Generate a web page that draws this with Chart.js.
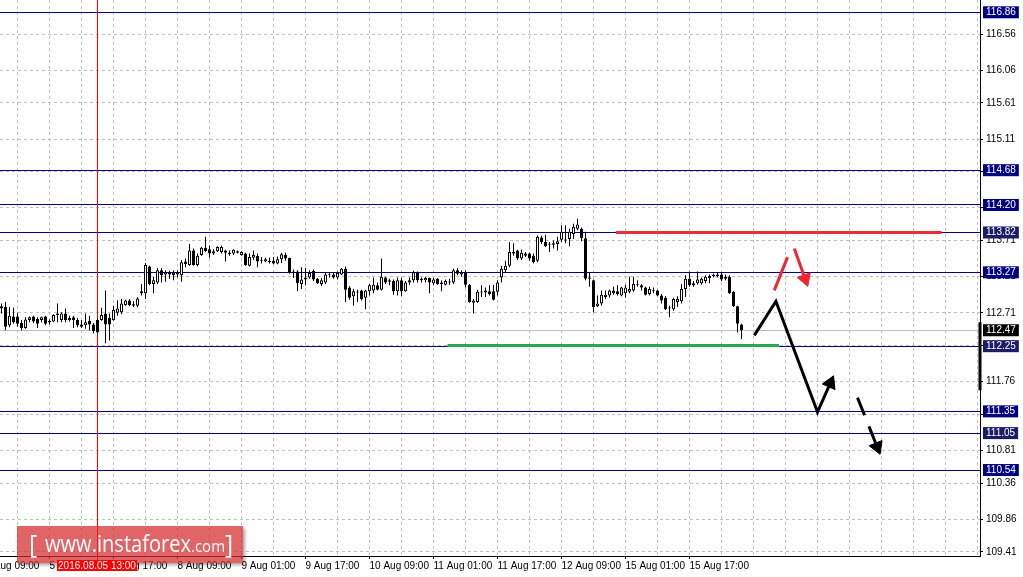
<!DOCTYPE html>
<html>
<head>
<meta charset="utf-8">
<title>USDJPY H1</title>
<script src="https://cdn.jsdelivr.net/npm/chart.js@4.4.1/dist/chart.umd.min.js"></script>
<style>
  html, body { margin: 0; padding: 0; background: #fff; }
  #wrap { position: relative; width: 1023px; height: 577px; overflow: hidden; }
  #chart { position: absolute; left: 0; top: 0; }
  #stamp {
    position: absolute; left: 57px; top: 560px; width: 80px; height: 11px;
    background: #f00; color: #fff; text-align: center;
    font: 10px "Liberation Sans", Arial, sans-serif; line-height: 11px;
  }
  #logo {
    position: absolute; left: 17px; top: 526px; width: 226px; height: 37px;
    background: rgba(214, 40, 44, 0.72); box-shadow: 2px 2px 3px rgba(0, 0, 0, 0.35);
  }
  #logo svg { position: absolute; left: 0; top: 0; }
</style>
</head>
<body>
<div id="wrap">
  <canvas id="chart" width="1023" height="577"></canvas>
  <div id="logo">
    <svg width="226" height="37">
      <text x="12" y="27" font-family="Open Sans" font-size="25" fill="#fff">[</text>
      <text x="28" y="26" font-family="Open Sans" font-size="24" fill="#fff" textLength="146" lengthAdjust="spacingAndGlyphs">www.instaforex</text>
      <text x="174" y="26" font-family="Open Sans" font-size="17" fill="#fff" textLength="34" lengthAdjust="spacingAndGlyphs">.com</text>
      <text x="208" y="27" font-family="Open Sans" font-size="25" fill="#fff">]</text>
    </svg>
  </div>
  <div id="stamp">2016.08.05 13:00</div>
</div>
<script>
// Hourly bars, index 0 = 4 Aug 13:00
const opens = [
  112.80, 112.79, 112.54, 112.66, 112.66, 112.57, 112.50, 112.61, 112.66, 112.63,
  112.61, 112.66, 112.60, 112.59, 112.70, 112.61, 112.70, 112.64, 112.65, 112.61,
  112.55, 112.54, 112.60, 112.55, 112.61, 112.61, 112.70, 112.64, 112.61, 112.71,
  112.72, 112.82, 112.88, 112.83, 112.81, 113.01, 112.98, 113.35, 113.11, 113.13,
  113.30, 113.24, 113.26, 113.27, 113.24, 113.23, 113.42, 113.37, 113.57, 113.37,
  113.51, 113.61, 113.59, 113.53, 113.56, 113.55, 113.57, 113.54, 113.53, 113.56,
  113.51, 113.53, 113.36, 113.47, 113.50, 113.44, 113.42, 113.43, 113.43, 113.39,
  113.45, 113.51, 113.47, 113.28, 113.28, 113.11, 113.17, 113.20, 113.29, 113.18,
  113.11, 113.13, 113.24, 113.24, 113.20, 113.24, 113.32, 113.06, 112.94, 113.00,
  113.02, 112.92, 113.01, 113.02, 113.09, 113.03, 113.20, 113.16, 113.15, 113.01,
  113.16, 113.01, 113.13, 113.16, 113.26, 113.18, 113.16, 113.19, 113.12, 113.18,
  113.13, 113.10, 113.14, 113.13, 113.30, 113.24, 113.26, 113.10, 112.85, 112.86,
  113.00, 112.99, 113.01, 113.01, 113.00, 113.20, 113.30, 113.36, 113.55, 113.57,
  113.46, 113.53, 113.53, 113.50, 113.43, 113.75, 113.69, 113.66, 113.65, 113.66,
  113.72, 113.72, 113.73, 113.80, 113.87, 113.87, 113.74, 113.20, 113.16, 112.80,
  112.84, 112.93, 112.95, 113.02, 113.01, 112.95, 112.98, 113.00, 113.02, 113.10,
  113.09, 113.06, 112.97, 113.02, 113.02, 112.95, 112.92, 112.78, 112.76, 112.86,
  112.87, 113.04, 113.18, 113.09, 113.12, 113.12, 113.15, 113.19, 113.23, 113.24,
  113.24, 113.18, 113.21, 113.00, 112.80, 112.55
];
const highs = [
  112.84, 112.86, 112.79, 112.78, 112.71, 112.61, 112.65, 112.66, 112.67, 112.65,
  112.66, 112.67, 112.62, 112.69, 112.84, 112.72, 112.77, 112.67, 112.67, 112.64,
  112.61, 112.70, 112.67, 112.57, 112.63, 112.78, 113.02, 112.70, 112.81, 112.88,
  112.90, 112.89, 112.90, 112.87, 112.93, 113.11, 113.40, 113.36, 113.21, 113.33,
  113.33, 113.30, 113.29, 113.30, 113.30, 113.44, 113.46, 113.66, 113.60, 113.53,
  113.62, 113.76, 113.64, 113.59, 113.63, 113.64, 113.58, 113.57, 113.59, 113.57,
  113.56, 113.54, 113.53, 113.57, 113.53, 113.48, 113.47, 113.47, 113.48, 113.49,
  113.54, 113.54, 113.47, 113.31, 113.30, 113.34, 113.33, 113.30, 113.31, 113.19,
  113.19, 113.27, 113.27, 113.27, 113.28, 113.33, 113.35, 113.08, 113.04, 113.03,
  113.03, 113.03, 113.11, 113.20, 113.13, 113.46, 113.21, 113.18, 113.17, 113.20,
  113.19, 113.15, 113.20, 113.29, 113.28, 113.20, 113.21, 113.20, 113.19, 113.19,
  113.16, 113.17, 113.18, 113.32, 113.33, 113.30, 113.30, 113.11, 112.90, 113.03,
  113.09, 113.06, 113.09, 113.10, 113.16, 113.36, 113.43, 113.69, 113.67, 113.58,
  113.58, 113.55, 113.54, 113.53, 113.78, 113.78, 113.79, 113.69, 113.71, 113.76,
  113.92, 113.92, 113.87, 113.94, 114.01, 113.89, 113.83, 113.27, 113.17, 112.95,
  113.02, 113.02, 113.03, 113.07, 113.09, 113.07, 113.10, 113.21, 113.21, 113.16,
  113.11, 113.07, 113.07, 113.06, 113.03, 112.97, 112.94, 112.81, 112.92, 112.94,
  113.11, 113.23, 113.28, 113.15, 113.28, 113.20, 113.23, 113.24, 113.25, 113.26,
  113.26, 113.24, 113.23, 113.01, 112.81, 112.56
];
const lows = [
  112.70, 112.47, 112.51, 112.56, 112.52, 112.47, 112.49, 112.58, 112.57, 112.50,
  112.58, 112.54, 112.55, 112.58, 112.58, 112.58, 112.58, 112.59, 112.50, 112.51,
  112.50, 112.49, 112.47, 112.43, 112.43, 112.60, 112.29, 112.33, 112.60, 112.67,
  112.69, 112.81, 112.80, 112.79, 112.79, 112.95, 112.90, 113.09, 112.98, 113.11,
  113.13, 113.14, 113.18, 113.16, 113.20, 113.14, 113.34, 113.36, 113.36, 113.35,
  113.50, 113.55, 113.47, 113.51, 113.55, 113.53, 113.42, 113.50, 113.51, 113.53,
  113.50, 113.36, 113.35, 113.44, 113.34, 113.39, 113.41, 113.39, 113.38, 113.38,
  113.40, 113.43, 113.25, 113.19, 113.01, 113.04, 113.09, 113.18, 113.15, 113.11,
  113.08, 113.11, 113.20, 113.18, 113.17, 113.23, 112.86, 112.89, 112.81, 112.86,
  112.88, 112.76, 112.95, 112.98, 113.02, 113.02, 113.11, 113.09, 112.96, 112.95,
  112.94, 113.00, 113.10, 113.13, 113.13, 113.13, 113.13, 112.98, 113.09, 113.10,
  113.01, 113.09, 113.10, 113.11, 113.23, 113.21, 113.06, 112.85, 112.70, 112.85,
  112.93, 112.93, 112.95, 112.88, 112.95, 113.13, 113.27, 113.34, 113.50, 113.44,
  113.44, 113.48, 113.43, 113.39, 113.41, 113.66, 113.62, 113.55, 113.60, 113.57,
  113.69, 113.67, 113.63, 113.73, 113.85, 113.70, 113.16, 113.07, 112.72, 112.79,
  112.81, 112.90, 112.92, 112.96, 112.95, 112.94, 112.92, 112.98, 113.00, 113.07,
  113.02, 112.95, 112.95, 112.98, 112.94, 112.84, 112.75, 112.65, 112.74, 112.79,
  112.84, 112.93, 113.07, 113.07, 113.10, 113.10, 113.12, 113.12, 113.20, 113.20,
  113.15, 113.16, 112.97, 112.79, 112.44, 112.35
];
const closes = [
  112.77, 112.52, 112.67, 112.58, 112.56, 112.50, 112.62, 112.65, 112.59, 112.56,
  112.65, 112.56, 112.58, 112.68, 112.68, 112.70, 112.61, 112.61, 112.61, 112.54,
  112.52, 112.58, 112.55, 112.46, 112.44, 112.68, 112.55, 112.55, 112.75, 112.77,
  112.84, 112.88, 112.82, 112.81, 112.91, 112.98, 113.37, 113.11, 113.16, 113.30,
  113.23, 113.27, 113.24, 113.23, 113.27, 113.41, 113.38, 113.57, 113.37, 113.50,
  113.61, 113.56, 113.53, 113.56, 113.62, 113.62, 113.54, 113.52, 113.58, 113.54,
  113.55, 113.37, 113.48, 113.51, 113.42, 113.43, 113.45, 113.41, 113.39, 113.45,
  113.52, 113.46, 113.26, 113.26, 113.12, 113.17, 113.20, 113.26, 113.17, 113.12,
  113.16, 113.24, 113.23, 113.20, 113.26, 113.32, 113.03, 112.92, 113.01, 112.99,
  112.90, 113.02, 113.09, 113.10, 113.03, 113.21, 113.13, 113.14, 113.01, 113.16,
  113.01, 113.13, 113.16, 113.27, 113.16, 113.16, 113.19, 113.13, 113.17, 113.11,
  113.11, 113.15, 113.13, 113.30, 113.25, 113.27, 113.10, 112.86, 112.88, 113.00,
  112.99, 113.02, 112.97, 112.89, 113.13, 113.32, 113.36, 113.55, 113.53, 113.46,
  113.54, 113.50, 113.46, 113.41, 113.76, 113.69, 113.63, 113.65, 113.67, 113.70,
  113.83, 113.71, 113.83, 113.90, 113.93, 113.74, 113.18, 113.18, 112.79, 112.84,
  112.96, 112.96, 113.02, 112.98, 112.97, 113.06, 113.06, 113.04, 113.11, 113.09,
  113.06, 112.96, 113.04, 113.01, 112.95, 112.88, 112.76, 112.77, 112.90, 112.90,
  113.04, 113.18, 113.09, 113.12, 113.17, 113.18, 113.21, 113.22, 113.22, 113.22,
  113.17, 113.21, 112.98, 112.80, 112.56, 112.47
];

// Time axis labels (bar index -> text)
const timeTickBars = [-4, 12, 28, 44, 60, 76, 92, 108, 124, 140, 156, 172];
const timeTickLabels = ['4 Aug 09:00', '5 Aug 01:00', '5 Aug 17:00', '8 Aug 09:00', '9 Aug 01:00',
  '9 Aug 17:00', '10 Aug 09:00', '11 Aug 01:00', '11 Aug 17:00', '12 Aug 09:00', '15 Aug 01:00', '15 Aug 17:00'];

// Price axis
const priceTicks = [116.56, 116.06, 115.61, 115.11, 114.66, 114.16, 113.71, 113.21,
  112.71, 112.26, 111.76, 111.31, 110.81, 110.36, 109.86, 109.41];
const levels = [116.86, 114.68, 114.20, 113.82, 113.27, 112.25, 111.35, 111.05, 110.54];
const shadedLevels = [113.82, 112.25, 111.05];
const bidPrice = 112.47;
const crosshairBar = 24;

// Drawn objects (bar index, price)
const resistanceX = [153.6, 235.0];
const resistanceY = [113.82, 113.82];
const supportX = [111.5, 194.4];
const supportY = [112.26, 112.26];
const pathX = [188.2, 193.6, 204.0, 207.2];
const pathY = [112.40, 112.87, 111.34, 111.74];
const dashArrowX = [214.0, 218.9];
const dashArrowY = [111.54, 110.86];
const redStrokeX = [193.2, 196.5];
const redStrokeY = [113.02, 113.48];
const redArrowX = [198.2, 200.9];
const redArrowY = [113.60, 113.18];
const axisMarkY = [112.58, 111.64];

const xMin = -0.375, xMax = 244.625;
const yMin = 109.353, yMax = 117.03;

const gridTicks = [];
for (let k = -4; k <= 244; k += 8) gridTicks.push(k);
const yTicks = [...priceTicks, ...levels, bidPrice];

const pts = (xs, ys) => xs.map((x, i) => ({ x: x, y: ys[i] }));

function tipRotation(ctx) {
  const d = ctx.dataset.data, i = ctx.dataIndex;
  if (i === 0) return 0;
  const sx = ctx.chart.scales.x, sy = ctx.chart.scales.y;
  const dx = sx.getPixelForValue(d[i].x) - sx.getPixelForValue(d[i - 1].x);
  const dy = sy.getPixelForValue(d[i].y) - sy.getPixelForValue(d[i - 1].y);
  return Math.atan2(dx, -dy) * 180 / Math.PI;
}
const tipRadius = ctx => ctx.dataIndex === ctx.dataset.data.length - 1 ? 8 : 0;

function arrowLine(data, color, width, dash, head) {
  return {
    type: 'line', data: data, order: 0,
    borderColor: color, backgroundColor: color, borderWidth: width,
    borderDash: dash || [], tension: 0,
    pointRadius: head === false ? 0 : tipRadius, pointHoverRadius: 0, pointStyle: 'triangle',
    pointRotation: tipRotation, pointBackgroundColor: color, pointBorderColor: color, pointBorderWidth: 1
  };
}

Chart.defaults.font.family = '"Liberation Sans", Arial, sans-serif';
Chart.defaults.color = '#000';

const tickFont = { size: 10, lineHeight: 1.0 };
const isLevel = i => i >= priceTicks.length;

new Chart(document.getElementById('chart'), {
  type: 'bar',
  data: {
    datasets: [
      {
        label: 'body', order: 1,
        data: opens.map((o, i) => ({ x: i, y: [o, closes[i]] })),
        backgroundColor: ctx => closes[ctx.dataIndex] > opens[ctx.dataIndex] ? '#fff' : '#000',
        borderColor: '#000', borderWidth: 1, borderSkipped: false,
        barThickness: 3, minBarLength: 1, inflateAmount: 0, grouped: false
      },
      {
        label: 'wick', order: 2,
        data: lows.map((l, i) => ({ x: i, y: [l, highs[i]] })),
        backgroundColor: '#000', borderWidth: 0,
        barThickness: 1, inflateAmount: 0, grouped: false
      },
      arrowLine(pts(resistanceX, resistanceY), '#e8303a', 3, [], false),
      arrowLine(pts(supportX, supportY), '#27a852', 3, [], false),
      arrowLine(pts(pathX, pathY), '#000', 3),
      arrowLine(pts(dashArrowX, dashArrowY), '#000', 3, [19, 12]),
      arrowLine(pts(redStrokeX, redStrokeY), '#ee2630', 3, [], false),
      arrowLine(pts(redArrowX, redArrowY), '#ee2630', 3),
      {
        type: 'line', order: 3, clip: false,
        data: [{ x: crosshairBar, y: yMax }, { x: crosshairBar, y: 109.29 }],
        borderColor: '#ff0000', borderWidth: 1, pointRadius: 0
      },
      {
        type: 'line', order: 0, clip: false,
        data: [{ x: xMax, y: axisMarkY[0] }, { x: xMax, y: axisMarkY[1] }],
        borderColor: '#000', borderWidth: 3, pointRadius: 0
      }
    ]
  },
  options: {
    responsive: false,
    devicePixelRatio: 1,
    animation: false,
    events: [],
    layout: { padding: 0, autoPadding: false },
    plugins: { legend: { display: false }, tooltip: { enabled: false } },
    scales: {
      x: {
        type: 'linear', min: xMin, max: xMax, offset: false,
        afterBuildTicks: s => { s.ticks = gridTicks.map(v => ({ value: v })); },
        afterFit: s => { s.height = 21; s.paddingLeft = 0; s.paddingRight = 0; },
        grid: {
          offset: false, color: '#c0c0c0', lineWidth: 1,
          drawTicks: true, tickLength: 3,
          tickColor: ctx => timeTickBars.includes(ctx.tick && ctx.tick.value) ? '#000' : 'rgba(0,0,0,0)'
        },
        border: { display: true, color: '#000', width: 1, dash: [3, 3] },
        ticks: {
          autoSkip: false, maxRotation: 0, minRotation: 0, align: 'start', padding: 2,
          font: tickFont, color: '#000',
          callback: v => {
            const j = timeTickBars.indexOf(v);
            return j >= 0 ? timeTickLabels[j] : '';
          }
        }
      },
      y: {
        type: 'linear', position: 'right', min: yMin, max: yMax,
        afterBuildTicks: s => { s.ticks = yTicks.map(v => ({ value: v })); },
        afterFit: s => { s.width = 43; s.paddingTop = 0; s.paddingBottom = 0; },
        grid: {
          lineWidth: 1, drawTicks: true, tickLength: 3,
          color: ctx => {
            if (!isLevel(ctx.index)) return '#c0c0c0';
            return ctx.tick.value === bidPrice ? '#c0c0c0' : '#000080';
          },
          tickColor: ctx => isLevel(ctx.index) ? 'rgba(0,0,0,0)' : '#000'
        },
        border: {
          display: true, color: '#000', width: 1,
          dash: ctx => (ctx.index !== undefined && !isLevel(ctx.index)) ? [3, 3] : []
        },
        ticks: {
          autoSkip: false, padding: 3, font: tickFont,
          color: ctx => isLevel(ctx.index) ? '#fff' : '#000',
          showLabelBackdrop: ctx => isLevel(ctx.index),
          backdropColor: ctx => {
            if (!isLevel(ctx.index)) return 'rgba(0,0,0,0)';
            const v = ctx.tick.value;
            if (v === bidPrice) return '#000';
            return shadedLevels.includes(v) ? '#1c1c66' : '#000080';
          },
          backdropPadding: { top: 1, bottom: 1, left: 3, right: 3 },
          callback: v => v.toFixed(2)
        }
      }
    }
  }
});
</script>
</body>
</html>
